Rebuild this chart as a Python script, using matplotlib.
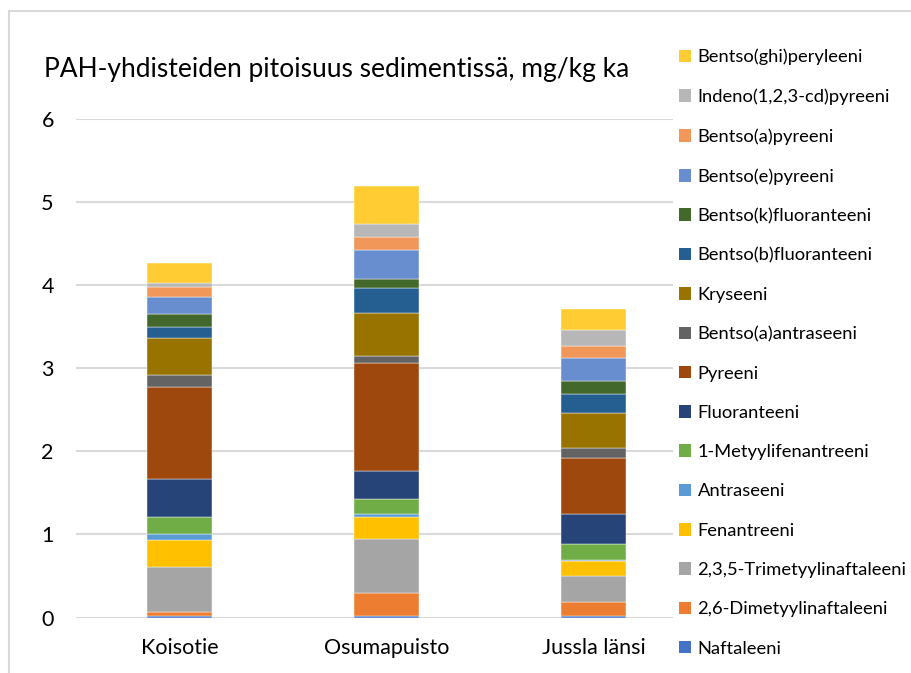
import matplotlib
matplotlib.use('Agg')
import matplotlib.pyplot as plt
from matplotlib.patches import Rectangle, Patch

plt.rcParams['font.family'] = ['Lato', 'DejaVu Sans']

# paikat
sites = ['Koisotie', 'Osumapuisto', 'Jussla länsi']

# yhdisteet alhaalta ylös
compounds = ['Naftaleeni', '2,6-Dimetyylinaftaleeni', '2,3,5-Trimetyylinaftaleeni',
             'Fenantreeni', 'Antraseeni', '1-Metyylifenantreeni', 'Fluoranteeni',
             'Pyreeni', 'Bentso(a)antraseeni', 'Kryseeni', 'Bentso(b)fluoranteeni',
             'Bentso(k)fluoranteeni', 'Bentso(e)pyreeni', 'Bentso(a)pyreeni',
             'Indeno(1,2,3-cd)pyreeni', 'Bentso(ghi)peryleeni']

colors = ['#4472C4', '#ED7D31', '#A5A5A5', '#FFC000', '#5B9BD5', '#70AD47',
          '#264478', '#9E480E', '#636363', '#997300', '#255E91', '#43682B',
          '#698ED0', '#F1975A', '#B7B7B7', '#FFCD33']

# pitoisuudet mg/kg ka (Koisotie, Osumapuisto, Jussla länsi)
naftaleeni = [0.02, 0.02, 0.02]
dimetyylinaftaleeni = [0.05, 0.28, 0.17]
trimetyylinaftaleeni = [0.54, 0.64, 0.31]
fenantreeni = [0.32, 0.27, 0.18]
antraseeni = [0.07, 0.04, 0.01]
metyylifenantreeni = [0.21, 0.18, 0.19]
fluoranteeni = [0.46, 0.33, 0.37]
pyreeni = [1.10, 1.30, 0.67]
bentso_a_antraseeni = [0.15, 0.09, 0.12]
kryseeni = [0.44, 0.51, 0.42]
bentso_b_fluoranteeni = [0.14, 0.31, 0.23]
bentso_k_fluoranteeni = [0.15, 0.10, 0.16]
bentso_e_pyreeni = [0.21, 0.35, 0.27]
bentso_a_pyreeni = [0.12, 0.16, 0.15]
indeno_pyreeni = [0.05, 0.16, 0.19]
bentso_ghi_peryleeni = [0.24, 0.45, 0.25]

values = [naftaleeni, dimetyylinaftaleeni, trimetyylinaftaleeni, fenantreeni,
          antraseeni, metyylifenantreeni, fluoranteeni, pyreeni,
          bentso_a_antraseeni, kryseeni, bentso_b_fluoranteeni,
          bentso_k_fluoranteeni, bentso_e_pyreeni, bentso_a_pyreeni,
          indeno_pyreeni, bentso_ghi_peryleeni]

W, H = 911, 673
fig = plt.figure(figsize=(W / 100, H / 100), dpi=100)

# kaavion reunaviiva
fig.patches.append(Rectangle((9 / W, -0.05), 1.1, 1 - 11 / H + 0.05, transform=fig.transFigure,
                             fill=False, edgecolor='#D9D9D9', linewidth=1.5))

ax = fig.add_axes([76 / W, 1 - 617.5 / H, 621 / W, (617.5 - 119) / H])

x = range(len(sites))
bottom = [0, 0, 0]
for name, vals, c in zip(compounds, values, colors):
    ax.bar(x, vals, width=0.31, bottom=bottom, color=c, label=name,
           edgecolor='white', linewidth=0.3, zorder=3)
    bottom = [b + v for b, v in zip(bottom, vals)]

ax.set_xlim(-0.5, 2.5)
ax.set_ylim(0, 6)
ax.set_yticks(range(7))
ax.set_xticks(list(x))
ax.set_xticklabels(sites)
ax.grid(axis='y', color='#D9D9D9', linewidth=1.5, zorder=0)
for s in ax.spines.values():
    s.set_visible(False)
ax.tick_params(length=0, labelsize=15.5, colors='black')
ax.tick_params(axis='y', pad=16)
ax.tick_params(axis='x', pad=15)

fig.text(44 / W, 1 - 70 / H, 'PAH-yhdisteiden pitoisuus sedimentissä, mg/kg ka',
         fontsize=19, va='center', ha='left')

handles = [Patch(facecolor=c) for c in colors][::-1]
fig.legend(handles, compounds[::-1], loc='upper left',
           bbox_to_anchor=(664 / W, 1 - 34 / H), frameon=True, edgecolor='none',
           facecolor='white', framealpha=1, fontsize=13.2, handlelength=0.68,
           handleheight=0.68, handletextpad=0.35, labelspacing=1.27, borderpad=0.3)

fig.savefig('out.png', dpi=100)
